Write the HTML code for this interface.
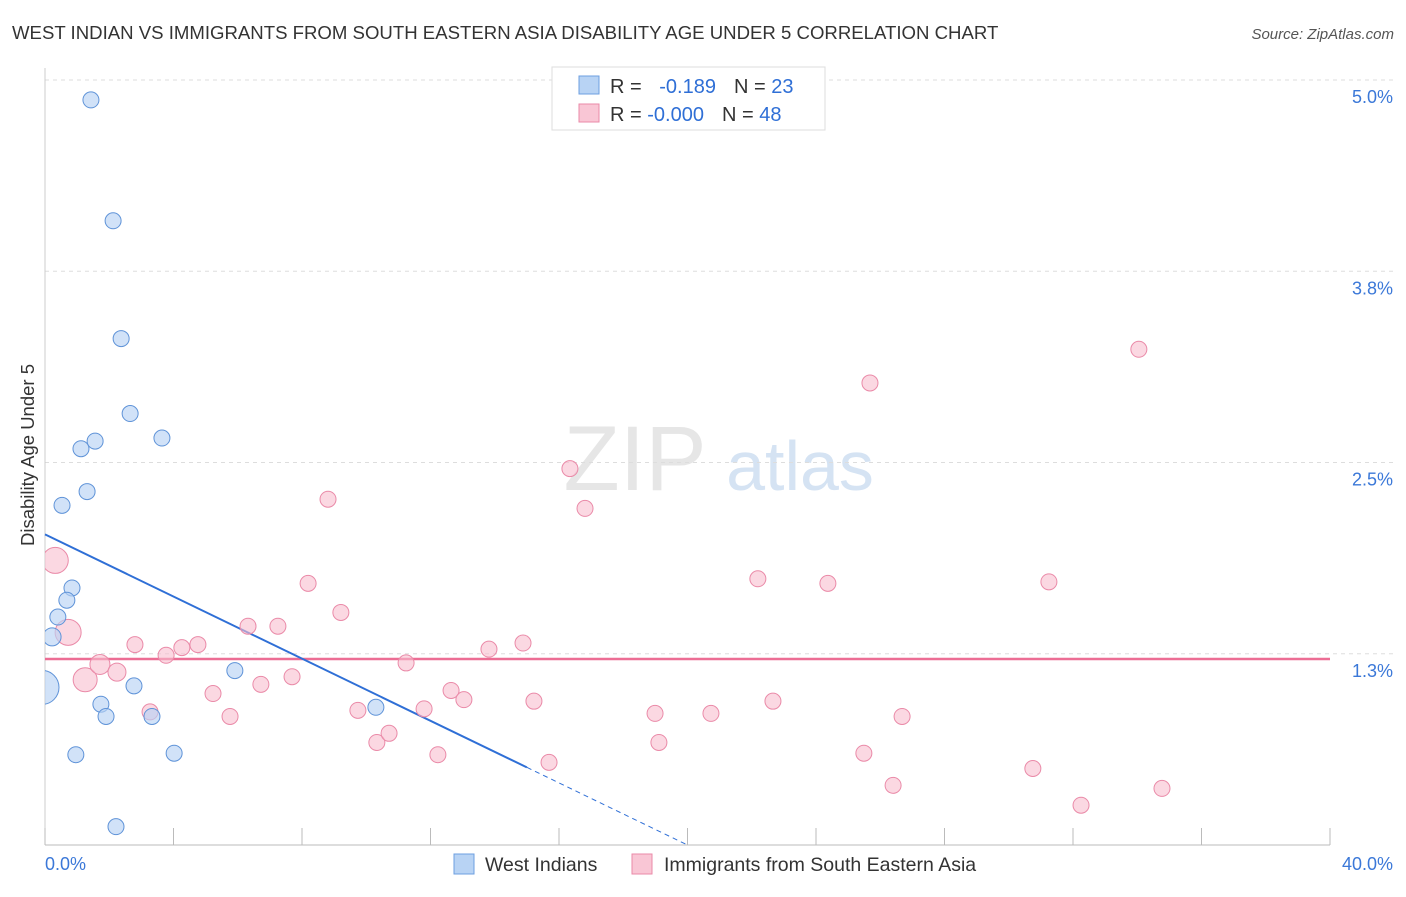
<!DOCTYPE html>
<html><head><meta charset="utf-8"><style>
body{margin:0;background:#fff;font-family:"Liberation Sans",sans-serif;}
svg text{font-family:"Liberation Sans",sans-serif;}
</style></head><body>
<svg id="chart" width="1406" height="892" xmlns="http://www.w3.org/2000/svg">
<defs><clipPath id="plotclip"><rect x="45" y="60" width="1360" height="800"/></clipPath></defs>
<text x="12" y="39" font-size="18.6" fill="#333">WEST INDIAN VS IMMIGRANTS FROM SOUTH EASTERN ASIA DISABILITY AGE UNDER 5 CORRELATION CHART</text>
<text x="1394" y="39" font-size="15" fill="#555" font-style="italic" text-anchor="end">Source: ZipAtlas.com</text>
<text x="34" y="455" font-size="18.5" fill="#333" text-anchor="middle" transform="rotate(-90 34 455)">Disability Age Under 5</text>
<g><text x="635" y="490" font-size="92" fill="#e6e6e6" font-family="Liberation Serif" text-anchor="middle">ZIP</text><text x="800" y="490" font-size="70" fill="#d5e3f3" text-anchor="middle">atlas</text></g>
<g id="grid"></g><g id="axes"></g><g id="lines"></g><g id="pts" clip-path="url(#plotclip)"></g>
<g>
<rect x="552" y="67" width="273" height="63" fill="#fff" stroke="#ddd"/>
<rect x="579" y="76" width="20" height="18" fill="#b8d3f4" stroke="#6d9fe0"/>
<rect x="579" y="104" width="20" height="18" fill="#f9c6d5" stroke="#ea8aa8"/>
<text x="610" y="93" font-size="20" fill="#333">R = <tspan fill="#2f6fd6" dx="12">-0.189</tspan><tspan fill="#333" dx="18">N = </tspan><tspan fill="#2f6fd6">23</tspan></text>
<text x="610" y="121" font-size="20" fill="#333">R = <tspan fill="#2f6fd6">-0.000</tspan><tspan fill="#333" dx="18">N = </tspan><tspan fill="#2f6fd6">48</tspan></text>
</g>
<g>
<rect x="454" y="854" width="20" height="20" fill="#b8d3f4" stroke="#6d9fe0"/>
<text x="485" y="871" font-size="19.5" fill="#333">West Indians</text>
<rect x="632" y="854" width="20" height="20" fill="#f9c6d5" stroke="#ea8aa8"/>
<text x="664" y="871" font-size="19.5" fill="#333">Immigrants from South Eastern Asia</text>
</g>
</svg>
<script>
const blueX=[1.43,2.12,2.37,2.65,3.64,1.56,1.12,1.31,0.53,0.84,0.68,0.40,0.22,0.0,2.77,5.91,1.74,1.90,3.33,10.30,0.96,4.02,2.21];
const blueY=[4.87,4.08,3.31,2.82,2.66,2.64,2.59,2.31,2.22,1.68,1.60,1.49,1.36,1.03,1.04,1.14,0.92,0.84,0.84,0.90,0.59,0.60,0.12];
const blueR=[8,8,8,8,8,8,8,8,8,8,8,8,9,17,8,8,8,8,8,8,8,8,8];
const pinkX=[0.32,0.72,1.25,1.71,2.24,2.80,3.27,3.77,4.26,4.76,5.23,5.76,6.32,6.72,7.25,7.69,8.19,8.81,9.21,9.74,10.33,10.71,11.24,11.80,12.23,12.64,13.04,13.82,14.88,15.22,15.69,16.34,16.81,18.99,19.11,20.73,22.19,22.66,24.37,25.49,25.68,26.40,26.68,30.75,31.25,32.25,34.05,34.77];
const pinkY=[1.86,1.39,1.08,1.18,1.13,1.31,0.87,1.24,1.29,1.31,0.99,0.84,1.43,1.05,1.43,1.10,1.71,2.26,1.52,0.88,0.67,0.73,1.19,0.89,0.59,1.01,0.95,1.28,1.32,0.94,0.54,2.46,2.20,0.86,0.67,0.86,1.74,0.94,1.71,0.60,3.02,0.39,0.84,0.50,1.72,0.26,3.24,0.37];
const pinkR=[13,13,12,10,9,8,8,8,8,8,8,8,8,8,8,8,8,8,8,8,8,8,8,8,8,8,8,8,8,8,8,8,8,8,8,8,8,8,8,8,8,8,8,8,8,8,8,8];
const yTicks=[5.0,3.75,2.5,1.25];
const yTickLabels=["5.0%","3.8%","2.5%","1.3%"];
const blueTrend=[2.03,-0.1015];
const pinkTrend=[1.216];
const NS="http://www.w3.org/2000/svg";
const sx=v=>45+v*(1285/40), sy=v=>80+(5-v)*153;
function mk(t,a,p){const e=document.createElementNS(NS,t);for(const k in a)e.setAttribute(k,a[k]);p.appendChild(e);return e;}
const grid=document.getElementById('grid'),axes=document.getElementById('axes'),lines=document.getElementById('lines'),pts=document.getElementById('pts');
yTicks.forEach((t,i)=>{
 const g=mk('line',{x1:45,x2:1393,y1:sy(t),y2:sy(t),stroke:'#ddd','stroke-dasharray':'4,4'},grid);
 
 
 const tx=mk('text',{x:1393,y:sy(t)+23,'font-size':18,fill:'#3b78d8','text-anchor':'end'},axes);
 tx.textContent=yTickLabels[i];
 
 
});
const ax=mk('line',{x1:45,x2:1330,y1:845,y2:845,stroke:'#bbb'},axes);


const ay=mk('line',{x1:45,x2:45,y1:68,y2:845,stroke:'#ccc'},axes);


for(let i=0;i<=10;i++){const t=mk('line',{x1:sx(i*4),x2:sx(i*4),y1:828,y2:845,stroke:'#bbb'},axes);
 
 }
[[0,"0.0%","start",45],[40,"40.0%","end",1393]].forEach(d=>{const t=mk('text',{x:d[3],y:870,'font-size':18,fill:'#3b78d8','text-anchor':d[2]},axes);t.textContent=d[1];
 
 });
const pl=mk('line',{x1:sx(0),x2:sx(40),y1:sy(pinkTrend[0]),y2:sy(pinkTrend[0]),stroke:'#ec6d94','stroke-width':2.5},lines);


const bl=v=>blueTrend[0]+blueTrend[1]*v;
const b1=mk('line',{x1:sx(0),y1:sy(bl(0)),x2:sx(15),y2:sy(bl(15)),stroke:'#2f6fd6','stroke-width':2},lines);


const b2=mk('line',{x1:sx(15),y1:sy(bl(15)),x2:sx(20),y2:sy(bl(20)),stroke:'#2f6fd6','stroke-width':1,'stroke-dasharray':'5,4'},lines);


pinkX.forEach((x,i)=>{const c=mk('circle',{cx:sx(x),cy:sy(pinkY[i]),r:pinkR[i],fill:'rgba(248,190,207,0.6)',stroke:'#ea8aa8','stroke-width':1},pts);
 
 });
blueX.forEach((x,i)=>{const c=mk('circle',{cx:sx(x)-(i==13?3:0),cy:sy(blueY[i]),r:blueR[i],fill:'rgba(184,211,244,0.65)',stroke:'#5f93d8','stroke-width':1},pts);
 
 });
</script>
</body></html>
